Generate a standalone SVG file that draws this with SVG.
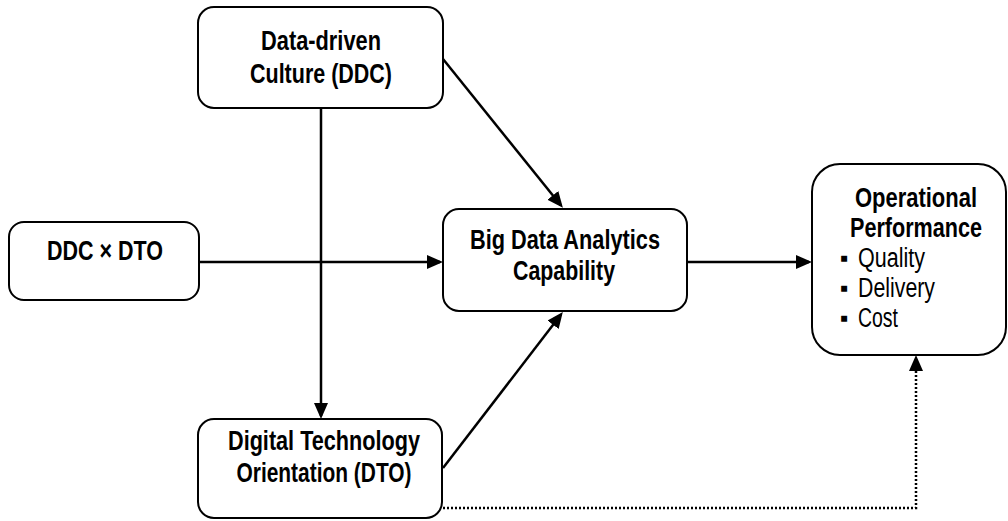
<svg xmlns="http://www.w3.org/2000/svg" width="1008" height="521" viewBox="0 0 1008 521">
  <style>
    .box { fill: #ffffff; stroke: #000000; stroke-width: 2; }
    .t { font-family: "Liberation Sans Narrow", "Liberation Sans", Arial, sans-serif; font-size: 27px; fill: #000000; text-anchor: middle; }
    .b { font-weight: bold; }
    .tl { font-family: "Liberation Sans Narrow", "Liberation Sans", Arial, sans-serif; font-size: 27px; fill: #000000; }
    .edge { fill: none; stroke: #000000; stroke-width: 2.5; }
    .dot { fill: none; stroke: #000000; stroke-width: 2.5; stroke-dasharray: 2 2; }
  </style>
  <defs>
    <marker id="arrow" markerUnits="userSpaceOnUse" markerWidth="17" markerHeight="15" refX="13" refY="7" orient="auto">
      <path d="M0,0 L16,7 L0,14 z" fill="#000000"/>
    </marker>
  </defs>

  <rect width="1008" height="521" fill="#ffffff"/>

  <g id="connectors">
    <line class="edge" x1="321" y1="108" x2="321" y2="416" marker-end="url(#arrow)"/>
    <line class="edge" x1="199" y1="262" x2="440" y2="262" marker-end="url(#arrow)"/>
    <line class="edge" x1="443" y1="59" x2="561" y2="205.5" marker-end="url(#arrow)"/>
    <line class="edge" x1="443" y1="468" x2="561" y2="314.5" marker-end="url(#arrow)"/>
    <line class="edge" x1="687" y1="262" x2="809" y2="262" marker-end="url(#arrow)"/>
    <polyline class="dot" points="443,508 916,508 916,358" marker-end="url(#arrow)"/>
  </g>

  <g id="ddc">
    <rect class="box" x="198" y="7" width="245" height="101" rx="16"/>
    <text class="t b" x="321" y="50" textLength="120" lengthAdjust="spacingAndGlyphs">Data-driven</text>
    <text class="t b" x="321" y="83" textLength="142" lengthAdjust="spacingAndGlyphs">Culture (DDC)</text>
  </g>

  <g id="interaction">
    <rect class="box" x="9" y="222" width="190" height="78" rx="15"/>
    <text class="t b" x="105" y="260" textLength="116" lengthAdjust="spacingAndGlyphs">DDC × DTO</text>
  </g>

  <g id="bdac">
    <rect class="box" x="443" y="209" width="244" height="102" rx="16"/>
    <text class="t b" x="565" y="249" textLength="190" lengthAdjust="spacingAndGlyphs">Big Data Analytics</text>
    <text class="t b" x="564" y="280" textLength="102" lengthAdjust="spacingAndGlyphs">Capability</text>
  </g>

  <g id="dto">
    <rect class="box" x="198" y="419" width="244" height="99" rx="16"/>
    <text class="t b" x="324" y="450" textLength="192" lengthAdjust="spacingAndGlyphs">Digital Technology</text>
    <text class="t b" x="324" y="482" textLength="175" lengthAdjust="spacingAndGlyphs">Orientation (DTO)</text>
  </g>

  <g id="performance">
    <rect class="box" x="812" y="164" width="194" height="191" rx="28"/>
    <text class="t b" x="916" y="207" textLength="122" lengthAdjust="spacingAndGlyphs">Operational</text>
    <text class="t b" x="916" y="237" font-size="25" textLength="132" lengthAdjust="spacingAndGlyphs">Performance</text>
    <text class="tl" x="840" y="267"><tspan font-size="24" dy="-1">▪</tspan><tspan x="858" dy="1" textLength="67" lengthAdjust="spacingAndGlyphs">Quality</tspan></text>
    <text class="tl" x="840" y="297"><tspan font-size="24" dy="-1">▪</tspan><tspan x="858" dy="1" textLength="77" lengthAdjust="spacingAndGlyphs">Delivery</tspan></text>
    <text class="tl" x="840" y="327"><tspan font-size="24" dy="-1">▪</tspan><tspan x="858" dy="1" textLength="40" lengthAdjust="spacingAndGlyphs">Cost</tspan></text>
  </g>
</svg>
